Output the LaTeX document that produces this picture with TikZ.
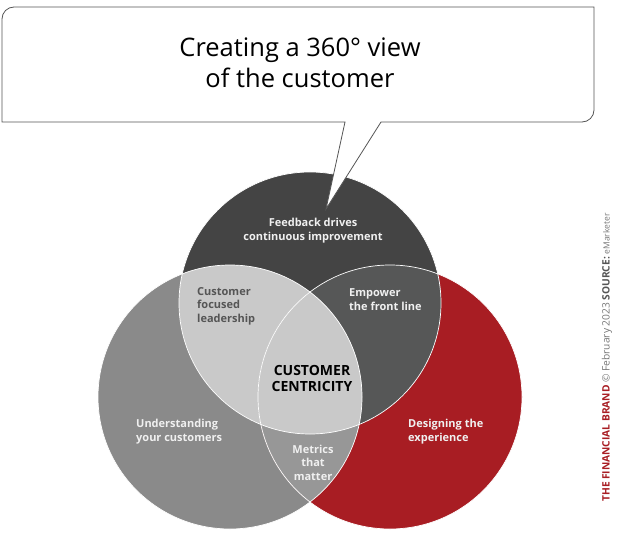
\documentclass[tikz,border=0pt]{standalone}
\usepackage{fontspec}
\setmainfont{Open Sans}
\usepackage{xcolor}
\usepackage{tikz}
\definecolor{topgray}{HTML}{444444}
\definecolor{leftgray}{HTML}{8A8A8A}
\definecolor{brandred}{HTML}{A81D23}
\definecolor{lightlens}{HTML}{C9C9C9}
\definecolor{darklens}{HTML}{565757}
\definecolor{midlens}{HTML}{979797}
\definecolor{labelgray}{HTML}{555555}
\definecolor{notegray}{HTML}{777777}
\tikzstyle{every label node}=[inner sep=0pt,font=\bfseries\fontsize{11}{13.5}\selectfont]
\tikzstyle{white label}=[every label node,text=white!94!black]
\tikzstyle{venn edge}=[draw=white,line width=0.7pt]

\begin{document}
\begin{tikzpicture}[x=1pt,y=-1pt]
\useasboundingbox (0,0) rectangle (620,537);
\coordinate (ctop) at (310,303);
\coordinate (cleft) at (230,397);
\coordinate (cright) at (390,397);
\fill[leftgray] (cleft) circle (132);
\fill[brandred] (cright) circle (132);
\fill[topgray] (ctop) circle (131);
\begin{scope}
\clip (ctop) circle (131);
\fill[lightlens] (cleft) circle (132);
\fill[darklens] (cright) circle (132);
\end{scope}
\begin{scope}
\clip (cleft) circle (132);
\fill[midlens] (cright) circle (132);
\clip (ctop) circle (131);
\fill[lightlens] (cright) circle (132);
\end{scope}
\draw[venn edge] (ctop) circle (131);
\draw[venn edge] (cleft) circle (132);
\draw[venn edge] (cright) circle (132);
% speech bubble
\coordinate (tip) at (326,209);
\draw[fill=white, draw=labelgray, line width=0.8pt] (2,122) -- (2,19) arc (180:270:12) -- (594,7) -- (594,110)
  arc (0:90:12) -- (381,122) -- (tip) -- (345,122) -- cycle;
\node[inner sep=0pt, align=center, font=\fontsize{25.5}{31}\selectfont] (title) at (300,62.5) {Creating a 360\textdegree{} view\\of the customer};
% circle labels
\node[white label, align=center] (feedback) at (313,230.5) {Feedback drives\\continuous improvement};
\node[every label node, text=labelgray, align=left, anchor=west] (leadership) at (197,306) {Customer\\focused\\leadership};
\node[white label, align=left, anchor=west] (empower) at (349,299.5) {Empower\\the front line};
\node[every label node, align=center, font=\bfseries\fontsize{14}{16.5}\selectfont] (centricity) at (312,378.5) {CUSTOMER\\CENTRICITY};
\node[white label, align=left, anchor=west] (understanding) at (136,431.5) {Understanding\\your customers};
\node[white label, align=left, anchor=west] (designing) at (408,431.5) {Designing the\\experience};
\node[white label, align=center] (metrics) at (313,462.5) {Metrics\\that\\matter};
% credit line
\node[rotate=90, inner sep=0pt, font=\fontsize{10.2}{12}\selectfont] (credit) at (607,357.5)
  {\textcolor{brandred}{\bfseries THE FINANCIAL BRAND} \textcolor{notegray}{\textcopyright{} February 2023} \textcolor{labelgray}{\bfseries SOURCE:} \textcolor{notegray}{\fontsize{8.5}{10}\selectfont eMarketer}};
\end{tikzpicture}
\end{document}
